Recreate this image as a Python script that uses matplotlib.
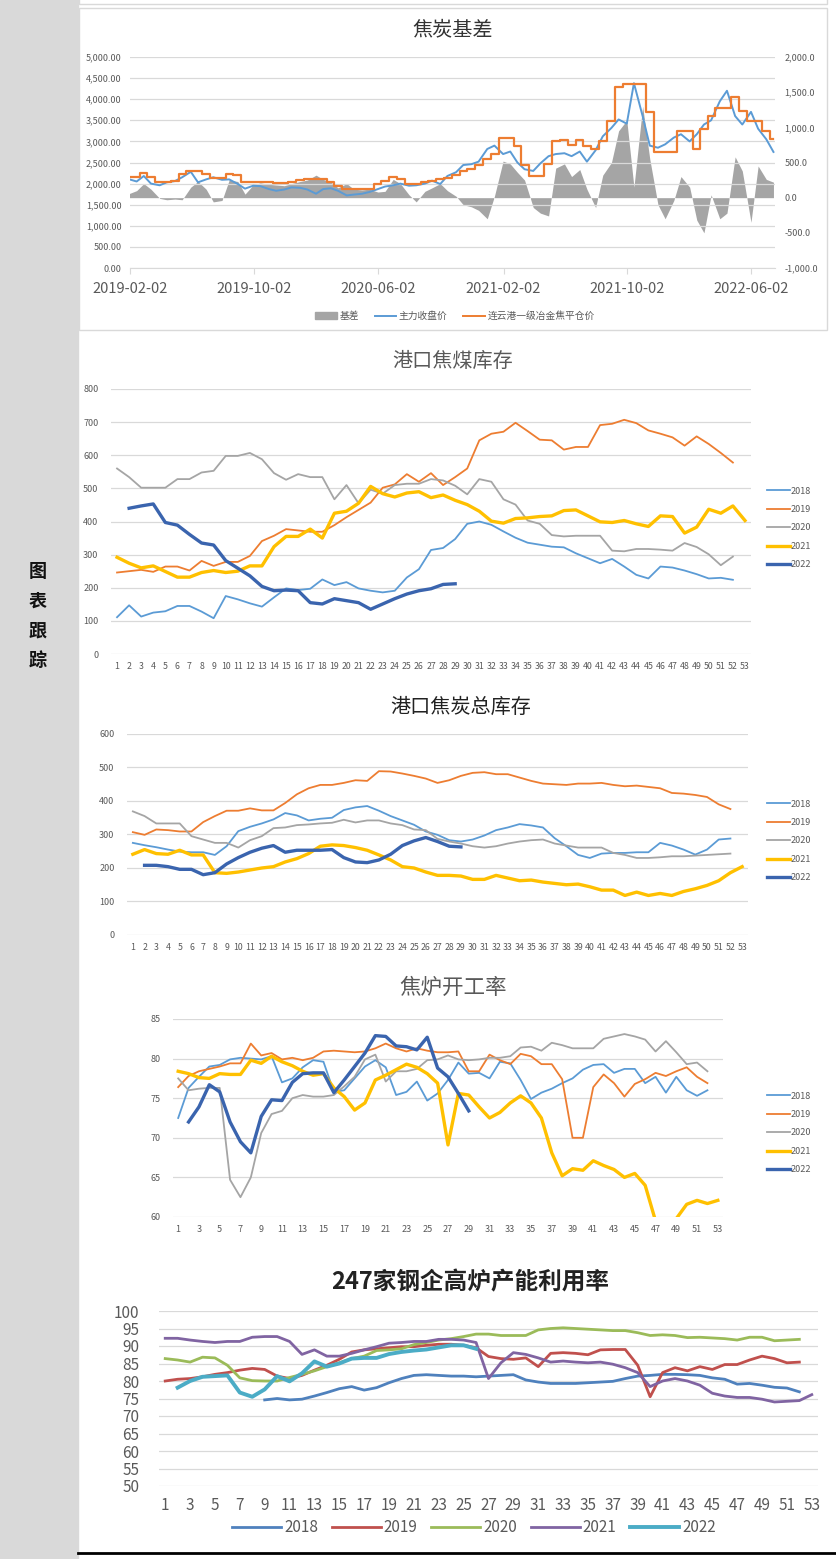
import numpy as np
import pandas as pd
import matplotlib
matplotlib.use("Agg")
import matplotlib.pyplot as plt
from matplotlib.patches import Rectangle, Patch
from matplotlib.lines import Line2D

plt.rcParams['font.family'] = ['Noto Sans CJK SC', 'DejaVu Sans']

W, H = 836, 1559

# ---------------- panel 1: 焦炭基差 (semi-monthly readings) ----------------
basis_dates = pd.date_range('2019-02-01', '2022-07-15', freq='SMS')
spot_price = [
    2146, 2146, 2248, 2150, 2044, 2044, 2067, 2224, 2295, 2295, 2224, 2138, 2122, 2232, 2200, 2044, 2028, 2028, 2028, 2012, 2012, 2028,
    2090, 2106, 2106, 2106, 2028, 1932, 1880, 1870, 1870, 1880, 1990, 2050, 2150, 2100, 1990, 2000, 2030, 2060, 2100, 2140, 2210, 2300, 2340, 2450,
    2580, 2700, 3080, 3080, 2900, 2450, 2190, 2190, 2460, 3020, 3030, 2910, 3030, 2890, 2810, 3000, 3480, 4300, 4350, 4350, 4350, 3700, 2740, 2740,
    2740, 3250, 3250, 2830, 3300, 3600, 3800, 3800, 4050, 3720, 3480, 3480, 3250, 3050]
futures_close = [
    2100, 2050, 2180, 2000, 1960, 2030, 2060, 2150, 2280, 2030, 2100, 2150, 2090, 2100, 1990, 1880, 1950, 1940, 1870, 1830, 1860, 1910,
    1900, 1860, 1760, 1870, 1890, 1830, 1720, 1740, 1760, 1800, 1870, 1930, 1960, 2000, 1950, 1960, 2000, 2070, 1990, 2180, 2270, 2440, 2460, 2520,
    2820, 2900, 2700, 2760, 2500, 2340, 2300, 2480, 2650, 2700, 2720, 2650, 2760, 2520, 2790, 3120, 3320, 3520, 3420, 4380, 3600, 2900, 2850, 2930,
    3090, 3170, 3000, 3170, 3400, 3500, 3950, 4200, 3600, 3400, 3700, 3300, 3050, 2750]
basis = [
    60, 100, 200, 120, -10, -30, -20, -30, 150, 230, 120, -60, -40, 250, 230, 50, 180, 210, 190, 180, 170, 200,
    230, 250, 320, 260, 220, 140, 200, 120, 110, 120, 80, 90, 260, 200, 40, -60, 90, 140, 200, 100, 20, -100, -130, -180,
    -300, 20, 520, 480, 360, 250, -140, -220, -260, 420, 480, 300, 400, 120, -140, 320, 500, 950, 1100, 150, 1300, 550, -100, -300,
    -40, 300, 150, -320, -500, 40, -300, -220, 580, 380, -350, 450, 260, 220]
date_ticks = ['2019-02-02', '2019-10-02', '2020-06-02', '2021-02-02', '2021-10-02', '2022-06-02']

# ---------------- panel 2: 港口焦煤库存 ----------------
coal_2018 = [111, 147, 113, 125, 129, 145, 145, 128, 108, 175, 165, 153, 143, 171, 198, 193, 197, 225, 208, 217,
             198, 191, 186, 191, 231, 256, 314, 320, 347, 393, 400, 390, 370, 351, 336, 330, 324, 322, 304, 289,
             274, 287, 264, 239, 228, 264, 261, 252, 241, 228, 230, 224]
coal_2019 = [246, 250, 254, 248, 264, 264, 252, 281, 266, 278, 278, 296, 341, 357, 377, 373, 369, 369, 389, 413,
             435, 457, 502, 512, 543, 520, 546, 510, 534, 560, 645, 665, 671, 698, 673, 647, 645, 617, 625, 625,
             691, 695, 707, 697, 675, 665, 654, 629, 657, 634, 607, 578]
coal_2020 = [560, 534, 502, 502, 502, 528, 528, 548, 553, 598, 598, 607, 588, 546, 526, 543, 534, 534, 467, 510,
             455, 496, 484, 510, 514, 514, 528, 524, 508, 482, 528, 520, 467, 451, 403, 393, 359, 355, 357, 357,
             357, 312, 310, 317, 317, 315, 312, 335, 323, 301, 268, 294]
coal_2021 = [292, 274, 260, 266, 249, 232, 232, 246, 252, 246, 250, 266, 266, 324, 355, 355, 377, 350, 425, 431,
             455, 506, 484, 474, 486, 490, 472, 480, 464, 451, 431, 401, 395, 409, 411, 415, 417, 433, 435, 417,
             399, 397, 403, 393, 385, 417, 415, 365, 383, 437, 425, 447, 403]
coal_2022 = [440, 447, 453, 397, 389, 361, 335, 329, 282, 259, 236, 204, 191, 193, 191, 155, 151, 167, 161, 155,
             135, 151, 167, 181, 191, 197, 210, 212]

# ---------------- panel 3: 港口焦炭总库存 ----------------
coke_2018 = [275, 268, 262, 255, 249, 247, 247, 239, 265, 310, 323, 333, 345, 364, 357, 342, 347, 350, 373, 381,
             385, 371, 355, 342, 329, 309, 299, 283, 279, 285, 297, 313, 321, 331, 327, 321, 289, 265, 239, 230,
             243, 245, 245, 247, 247, 275, 267, 255, 240, 255, 285, 288]
coke_2019 = [307, 299, 315, 313, 309, 309, 337, 355, 371, 371, 378, 372, 372, 394, 420, 438, 448, 448, 454, 462,
             460, 489, 488, 482, 475, 467, 454, 462, 475, 484, 486, 480, 480, 470, 460, 452, 450, 448, 452, 452,
             454, 448, 444, 446, 442, 438, 424, 422, 418, 412, 390, 376]
coke_2020 = [369, 355, 333, 333, 333, 295, 285, 275, 275, 261, 283, 295, 319, 321, 328, 330, 333, 335, 344, 336,
             342, 342, 333, 328, 315, 313, 287, 279, 273, 265, 261, 265, 273, 279, 283, 285, 273, 267, 261, 261,
             261, 245, 239, 230, 230, 232, 235, 235, 237, 239, 241, 243]
coke_2021 = [241, 255, 243, 241, 253, 239, 239, 186, 184, 188, 194, 200, 204, 218, 228, 243, 265, 269, 267, 261,
             253, 239, 224, 204, 200, 188, 178, 178, 176, 166, 166, 178, 170, 162, 164, 158, 154, 150, 152, 144,
             134, 134, 118, 128, 118, 124, 118, 130, 138, 148, 162, 186, 204]
coke_2022 = [208, 208, 204, 196, 196, 180, 186, 212, 231, 247, 259, 267, 247, 253, 253, 253, 255, 231, 218, 216,
             224, 241, 267, 281, 291, 279, 265, 263]

# ---------------- panel 4: 焦炉开工率 ----------------
oven_2018 = [72.5, 76.3, 77.7, 79.0, 79.2, 79.9, 80.1, 80.0, 79.9, 80.3, 77.0, 77.5, 78.9, 79.8, 79.6, 75.8, 76.0, 77.5, 79.0, 79.8,
             78.9, 75.4, 75.8, 77.1, 74.7, 75.6, 77.3, 79.5, 78.1, 78.2, 77.5, 79.6, 79.4, 77.3, 74.9, 75.7, 76.2, 76.9, 77.5, 78.6,
             79.2, 79.3, 78.2, 78.7, 78.7, 76.9, 77.7, 75.7, 77.7, 76.0, 75.3, 76.0]
oven_2019 = [76.4, 77.8, 78.4, 78.7, 79.0, 79.4, 79.4, 81.9, 80.4, 80.7, 79.9, 80.1, 79.8, 80.1, 80.9, 81.0, 80.9, 80.8, 80.9, 81.3,
             81.9, 81.3, 80.9, 81.3, 81.0, 80.8, 80.8, 80.9, 78.4, 78.4, 80.5, 79.8, 79.3, 80.6, 80.3, 79.3, 79.3, 77.4, 70.0, 70.0,
             76.4, 78.0, 76.9, 75.2, 76.8, 77.4, 78.2, 77.8, 78.4, 78.9, 77.7, 76.9]
oven_2020 = [77.5, 76.0, 76.2, 76.3, 76.3, 64.7, 62.5, 65.0, 70.6, 73.0, 73.4, 75.0, 75.4, 75.2, 75.2, 75.4, 76.5, 77.7, 79.9, 80.5,
             77.1, 78.4, 78.4, 78.7, 79.8, 79.9, 80.4, 79.9, 79.8, 79.9, 80.1, 80.1, 80.3, 81.4, 81.5, 81.0, 82.0, 81.7, 81.3, 81.3,
             81.3, 82.5, 82.8, 83.1, 82.8, 82.4, 80.9, 82.2, 80.8, 79.3, 79.5, 78.4]
oven_2021 = [78.4, 78.1, 77.6, 77.5, 78.1, 78.0, 78.0, 79.8, 79.4, 80.3, 79.6, 79.1, 78.4, 77.9, 78.1, 76.3, 75.2, 73.5, 74.4, 77.3,
             77.9, 78.6, 79.3, 78.9, 78.1, 76.9, 69.1, 75.6, 75.4, 73.9, 72.5, 73.2, 74.4, 75.3, 74.4, 72.5, 68.1, 65.2, 66.1, 65.9,
             67.1, 66.5, 66.0, 65.0, 65.5, 64.0, 59.5, 58.5, 59.8, 61.6, 62.1, 61.7, 62.1]
oven_2022 = [72.0, 73.9, 76.7, 75.8, 72.0, 69.5, 68.1, 72.7, 74.8, 74.7, 77.0, 78.1, 78.2, 78.2, 75.7, 77.3, 79.0, 80.7, 82.9, 82.8,
             81.6, 81.5, 81.1, 82.7, 78.8, 77.7, 75.6, 73.4]

# ---------------- panel 5: 247家钢企高炉产能利用率 ----------------
bf_2018 = [74.6, 75.0, 74.6, 74.8, 75.7, 76.7, 77.8, 78.4, 77.4, 78.1, 79.5, 80.7, 81.6, 81.8, 81.6, 81.4, 81.4, 81.2, 81.4, 81.6,
           81.8, 80.3, 79.7, 79.3, 79.3, 79.3, 79.5, 79.7, 79.9, 80.7, 81.4, 81.6, 81.9, 81.9, 81.8, 81.6, 80.9, 80.5, 79.1, 79.3,
           78.8, 78.2, 78.0, 76.9]
bf_2019 = [80.0, 80.5, 80.7, 81.2, 81.9, 82.4, 83.1, 83.6, 83.3, 81.4, 80.7, 81.6, 83.1, 84.5, 86.2, 88.3, 88.9, 89.2, 89.5, 89.8,
           89.8, 90.2, 90.5, 90.5, 90.2, 89.5, 87.0, 86.4, 86.2, 86.6, 84.1, 87.9, 88.1, 87.9, 87.5, 88.9, 89.0, 89.0, 84.5, 75.5,
           82.4, 83.8, 82.9, 84.1, 83.3, 84.7, 84.7, 86.0, 87.1, 86.4, 85.2, 85.4]
bf_2020 = [86.4, 86.0, 85.4, 86.8, 86.6, 84.5, 80.9, 80.1, 80.0, 80.0, 81.0, 81.9, 82.9, 84.1, 85.2, 86.4, 87.1, 88.7, 88.9, 89.2,
           90.4, 91.0, 91.7, 92.1, 92.7, 93.4, 93.4, 93.0, 93.0, 93.0, 94.6, 95.0, 95.2, 95.0, 94.8, 94.6, 94.4, 94.4, 93.8, 93.0,
           93.2, 93.0, 92.4, 92.5, 92.3, 92.1, 91.7, 92.5, 92.5, 91.5, 91.7, 91.9]
bf_2021 = [92.2, 92.2, 91.7, 91.3, 91.0, 91.3, 91.3, 92.5, 92.7, 92.7, 91.3, 87.6, 88.9, 87.1, 87.1, 87.9, 88.9, 89.8, 90.8, 91.0,
           91.3, 91.3, 91.9, 91.9, 91.7, 91.0, 80.7, 85.2, 88.1, 87.6, 86.6, 85.4, 85.7, 85.4, 85.2, 85.4, 84.8, 83.8, 82.4, 78.4,
           80.0, 80.7, 80.0, 78.8, 76.5, 75.7, 75.3, 75.3, 74.8, 74.0, 74.2, 74.4, 76.1]
bf_2022 = [78.1, 80.0, 81.2, 81.4, 81.6, 76.7, 75.5, 77.6, 81.4, 79.9, 82.2, 85.6, 84.1, 85.0, 86.4, 86.6, 86.6, 87.7, 88.3, 88.7,
           89.0, 89.6, 90.2, 90.2, 89.2]

years = ['2018', '2019', '2020', '2021', '2022']


def fx(x):
    return x / W


def fy(y):
    return 1 - y / H


def add_axes(fig, left, right, top, bottom):
    return fig.add_axes([fx(left), fy(bottom), (right - left) / W, (bottom - top) / H])


def weeks(values, start=1):
    return np.arange(start, start + len(values))


def style_weekly(ax, ylim, ystep, label_every, fs):
    ax.set_xlim(0.5, 53.5)
    ax.set_ylim(*ylim)
    ax.set_yticks(np.arange(ylim[0], ylim[1] + 0.1, ystep))
    ax.set_xticks(np.arange(1, 54, label_every))
    ax.grid(axis='y', color='#D9D9D9', linewidth=0.9)
    ax.set_axisbelow(True)
    for s in ax.spines.values():
        s.set_visible(False)
    ax.tick_params(length=0, labelsize=fs, colors='#595959')


def side_legend(ax, top_px):
    ax.legend(loc='upper left', bbox_to_anchor=(fx(762), fy(top_px)), bbox_transform=fig.transFigure,
              frameon=False, fontsize=6.5, handlelength=2.6, handletextpad=0.1, labelspacing=1.05,
              labelcolor='#595959', borderpad=0)


fig = plt.figure(figsize=(W / 100, H / 100), dpi=100)

# left strip and frames
fig.patches.append(Rectangle((0, 0), fx(78), 1, transform=fig.transFigure, color='#D9D9D9', zorder=0))
for i, ch in enumerate('图表跟踪'):
    fig.text(fx(38), fy(572 + i * 29.5), ch, ha='center', va='center', fontsize=13,
             fontweight='bold', color='#111111')
fig.patches.append(Rectangle((fx(79), fy(330)), fx(748), 322 / H, transform=fig.transFigure,
                             fill=False, edgecolor='#D9D9D9', linewidth=1))
fig.patches.append(Rectangle((fx(79), fy(4)), fx(748), 10 / H, transform=fig.transFigure,
                             fill=False, edgecolor='#D9D9D9', linewidth=1))
fig.add_artist(Line2D([fx(78), 1], [fy(1553), fy(1553)], color='black', linewidth=2))

# ---------------- panel 1 ----------------
ax1 = add_axes(fig, 130, 775, 57, 268)
ax1r = ax1.twinx()
ax1r.fill_between(basis_dates, 0, basis, color='#A5A5A5', linewidth=0, zorder=1)
ax1r.set_ylim(-1000, 2000)
ax1r.set_yticks(np.arange(-1000, 2001, 500))
ax1r.yaxis.set_major_formatter(plt.FuncFormatter(lambda v, p: f'{v:,.1f}'))
ax1.set_zorder(ax1r.get_zorder() + 1)
ax1.patch.set_visible(False)
ax1.plot(basis_dates, futures_close, color='#5B9BD5', linewidth=1.4)
ax1.plot(basis_dates, spot_price, color='#ED7D31', linewidth=1.6, drawstyle='steps-mid')
ax1.set_ylim(0, 5000)
ax1.set_yticks(np.arange(0, 5001, 500))
ax1.yaxis.set_major_formatter(plt.FuncFormatter(lambda v, p: f'{v:,.2f}'))
ax1.set_xlim(pd.Timestamp('2019-02-02'), pd.Timestamp('2022-07-18'))
ax1.set_xticks(pd.to_datetime(date_ticks))
ax1.set_xticklabels(date_ticks)
ax1.grid(axis='y', color='#D9D9D9', linewidth=0.9)
for a in (ax1, ax1r):
    for s in a.spines.values():
        s.set_visible(False)
ax1.spines['bottom'].set_visible(True)
ax1.spines['bottom'].set_color('#D9D9D9')
ax1.tick_params(axis='y', length=0, labelsize=6.5, colors='#595959', pad=6)
ax1r.tick_params(axis='y', length=0, labelsize=6.5, colors='#595959', pad=7)
ax1.tick_params(axis='x', length=4, color='#D9D9D9', labelsize=10.5, labelcolor='#595959', pad=6)
fig.text(fx(453), fy(30), '焦炭基差', ha='center', va='center', fontsize=14.5, color='#333333')
h1 = [Patch(color='#A5A5A5'), Line2D([], [], color='#5B9BD5', lw=1.4), Line2D([], [], color='#ED7D31', lw=1.4)]
fig.legend(h1, ['基差', '主力收盘价', '连云港一级冶金焦平仓价'], loc='center',
           bbox_to_anchor=(fx(455), fy(316)), ncol=3, frameon=False, fontsize=7,
           handlelength=2.2, handleheight=0.6, columnspacing=1.6, handletextpad=0.3, labelcolor='#595959')

weekly_colors = ['#5B9BD5', '#ED7D31', '#A5A5A5', '#FFC000', '#3A64AE']
weekly_widths = [1.3, 1.3, 1.3, 2.4, 2.4]

# ---------------- panel 2 ----------------
ax2 = add_axes(fig, 111, 751, 389, 654)
series2 = [(coal_2018, 1), (coal_2019, 1), (coal_2020, 1), (coal_2021, 1), (coal_2022, 2)]
for (vals, st), c, lw, lab in zip(series2, weekly_colors, weekly_widths, years):
    ax2.plot(weeks(vals, st), vals, color=c, linewidth=lw, label=lab)
style_weekly(ax2, (0, 800), 100, 1, 6.3)
ax2.tick_params(axis='y', pad=9, labelsize=6.5)
ax2.tick_params(axis='x', pad=6)
fig.text(fx(453), fy(361), '港口焦煤库存', ha='center', va='center', fontsize=14.5, color='#595959')
side_legend(ax2, 482)

# ---------------- panel 3 ----------------
ax3 = add_axes(fig, 127, 748, 734, 935)
series3 = [(coke_2018, 1), (coke_2019, 1), (coke_2020, 1), (coke_2021, 1), (coke_2022, 2)]
for (vals, st), c, lw, lab in zip(series3, weekly_colors, weekly_widths, years):
    ax3.plot(weeks(vals, st), vals, color=c, linewidth=lw, label=lab)
style_weekly(ax3, (0, 600), 100, 1, 6.3)
ax3.tick_params(axis='y', pad=9, labelsize=6.5)
ax3.tick_params(axis='x', pad=6)
fig.text(fx(461), fy(707), '港口焦炭总库存', ha='center', va='center', fontsize=14.5, color='#222222')
side_legend(ax3, 795)

# ---------------- panel 4 ----------------
ax4 = add_axes(fig, 173, 723, 1019, 1217)
series4 = [(oven_2018, 1), (oven_2019, 1), (oven_2020, 1), (oven_2021, 1), (oven_2022, 2)]
for (vals, st), c, lw, lab in zip(series4, weekly_colors, weekly_widths, years):
    ax4.plot(weeks(vals, st), vals, color=c, linewidth=lw, label=lab)
style_weekly(ax4, (60, 85), 5, 2, 6.5)
ax4.tick_params(axis='y', pad=9)
ax4.tick_params(axis='x', pad=6)
fig.text(fx(453), fy(988), '焦炉开工率', ha='center', va='center', fontsize=15.5, color='#595959')
side_legend(ax4, 1087)

# ---------------- panel 5 ----------------
ax5 = add_axes(fig, 159, 818, 1311, 1486)
bf_colors = ['#4F81BD', '#C0504D', '#9BBB59', '#8064A2', '#4BACC6']
bf_widths = [2.0, 2.0, 2.0, 2.0, 2.8]
series5 = [(bf_2018, 9), (bf_2019, 1), (bf_2020, 1), (bf_2021, 1), (bf_2022, 2)]
for (vals, st), c, lw, lab in zip(series5, bf_colors, bf_widths, years):
    ax5.plot(weeks(vals, st), vals, color=c, linewidth=lw, label=lab)
style_weekly(ax5, (50, 100), 5, 2, 11)
ax5.tick_params(axis='y', pad=14)
ax5.tick_params(axis='x', pad=8)
fig.text(fx(470), fy(1282), '247家钢企高炉产能利用率', ha='center', va='center', fontsize=17,
         fontweight='bold', color='#222222')
ax5.legend(loc='center', bbox_to_anchor=(fx(474), fy(1528)), bbox_transform=fig.transFigure,
           ncol=5, frameon=False, fontsize=11, handlelength=3.2, handletextpad=0.2, columnspacing=0.9,
           labelcolor='#595959')

fig.savefig('out.png', dpi=100, facecolor='white')
